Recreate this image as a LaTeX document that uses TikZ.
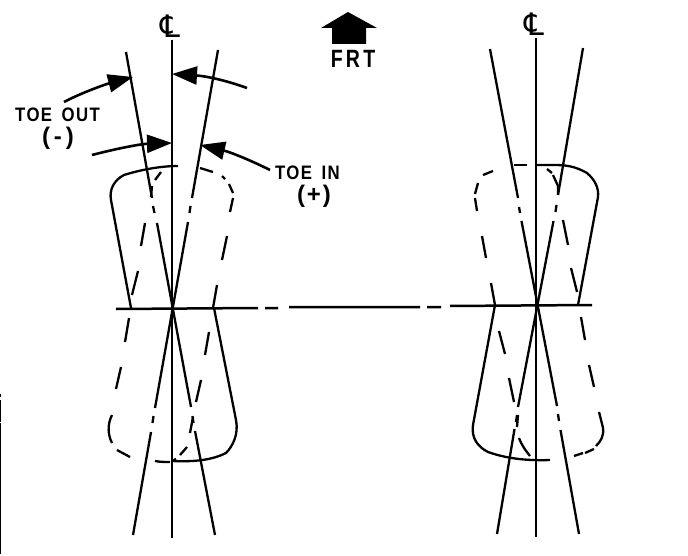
\documentclass[tikz,border=0pt]{standalone}
\usepackage{fontspec}
\setmainfont[LetterSpace=8,WordSpace=1.6]{Liberation Sans}
\newfontfamily\clfont{DejaVu Sans}
\usetikzlibrary{arrows.meta}
\tikzset{
  ink/.style={line width=2.3pt,black,line cap=butt,line join=round},
  axis/.style={ink,line width=2.5pt},
  call/.style={ink,line width=2.6pt,-{Triangle[length=25pt,width=18pt]}},
  lbl/.style={inner sep=0pt,font=\bfseries\fontsize{19.5}{19.5}\selectfont},
  sign/.style={inner sep=0pt,font=\bfseries\fontsize{24}{24}\selectfont},
  clmark/.style={inner sep=0pt,font=\clfont\fontsize{31}{31}\selectfont}
}
\begin{document}
\begin{tikzpicture}[x=1pt,y=-1pt]
\useasboundingbox (0,0) rectangle (688,556);
% scan edge
\draw[line width=1pt,black] (0.5,394) -- (0.5,397) (0.5,400) -- (0.5,422) (0.5,423) -- (0.5,554);
% centre lines and cross axle
\draw[axis] (172,40) -- (172,538);
\draw[axis] (536,38) -- (536,537);
\draw[axis] (116,309) -- (258,308) (265,308) -- (278,308) (289,307) -- (420,307) (427,307) -- (441,307) (450,306) -- (592,305);
% left toe lines
\draw[ink] (126,52) -- (152,198) (153,206) -- (154.5,213) (157,223) -- (191,407) (192.5,416) -- (193.5,423) (195,431) -- (215,535);
\draw[ink] (218,50) -- (192,198) (190.5,206) -- (189.5,213) (188,222) -- (155,408) (153.5,416) -- (152.5,423) (151,432) -- (133,535);
% right toe lines
\draw[ink] (490,49) -- (518,198) (519,207) -- (520,213) (521.5,221) -- (557,406) (558,414) -- (559,421) (560.5,430) -- (579,534);
\draw[ink] (583,48) -- (558,195) (556.5,205) -- (555.5,212) (553.5,221) -- (518,407) (517,415) -- (516,422) (514.5,429) -- (497,534);
% left wheel, solid
\draw[ink] (178,166) .. controls (160,166) and (140,170) .. (124,175) .. controls (114,180) and (109,190) .. (111,200) -- (131,308);
\draw[ink] (214,308) -- (236,420) .. controls (239,435) and (232,447) .. (226,453) .. controls (212,460) and (195,462) .. (172,461);
% left wheel, dashed
\draw[ink] (200,168) -- (213,172) (222,176) -- (225,179) (229,184) -- (233,193) (233,198) -- (230,212)
  (227,236) -- (222,260) (217,285) -- (213,308) (209,332) -- (205,355) (201,380) -- (196,402) (193,417) -- (190,433)
  (187,447) -- (180,455) (172,461) -- (176,459);
\draw[ink] (161,172) -- (155,180) (152,186) -- (151,197) (145,223) -- (141,246) (138,271) -- (132,295)
  (129,318) -- (125,342) (121,367) -- (116,389) (112,415) .. controls (107,425) and (108,435) .. (112,443)
  (117,450) -- (130,457) (155,461) .. controls (160,462) and (165,462) .. (170,462);
% right wheel, solid
\draw[ink] (537,165) -- (555,165) .. controls (570,165) and (578,168) .. (587,173) .. controls (595,180) and (599,188) .. (598,197) -- (578,305);
\draw[ink] (495,305) -- (473,425) .. controls (471,438) and (478,447) .. (488,452) .. controls (505,458) and (525,461) .. (550,460);
\draw[ink] (514,165) -- (527,165);
% right wheel, dashed
\draw[ink] (493,171) -- (483,175) (478,183) -- (475,194) (475,198) -- (477,211) (482,236) -- (486,258) (491,283) -- (495,305)
  (499,331) -- (505,354) (509,378) -- (514,402) (518,415) -- (517,427) (519,438) .. controls (522,446) and (526,451) .. (530,456);
\draw[ink] (547,169) -- (552,173) (553,175) -- (558,186) (558,186) -- (558,195) (563,220) -- (568,245) (571,268) -- (577,292)
  (581,317) -- (585,340) (589,365) -- (594,387) (599,412) -- (603,428) .. controls (604,436) and (601,441) .. (596,446)
  (594,449) -- (585,453) (583,453) -- (574,456);
% call-out arrows
\draw[call] (64,102) .. controls (85,91) and (110,83) .. (133,77);
\draw[call] (92,155) .. controls (115,149) and (140,144) .. (172,143);
\draw[call] (247,88) .. controls (225,80) and (205,76) .. (172,74);
\draw[call] (270,170) .. controls (250,160) and (230,152) .. (200,145);
% front arrow
\fill[black] (348,12) -- (377,28) -- (366,28) -- (366,44) -- (332,44) -- (332,28) -- (321,28) -- cycle;
% labels
\node[clmark] (clL) at (170,26) {℄};
\node[clmark] (clR) at (534,24) {℄};
\node[lbl,font=\bfseries\fontsize{25}{25}\selectfont] (frt) at (353,59) {\scalebox{0.78}[1]{F\,R\,T}};
\node[lbl] (toeout) at (57.5,115) {\scalebox{0.86}[1]{TOE OUT}};
\node[sign] (toeoutsign) at (58,138) {(\,-\,)};
\node[lbl] (toein) at (307.5,173) {\scalebox{0.86}[1]{TOE IN}};
\node[sign] (toeinsign) at (314,196) {(+)};
\end{tikzpicture}
\end{document}
